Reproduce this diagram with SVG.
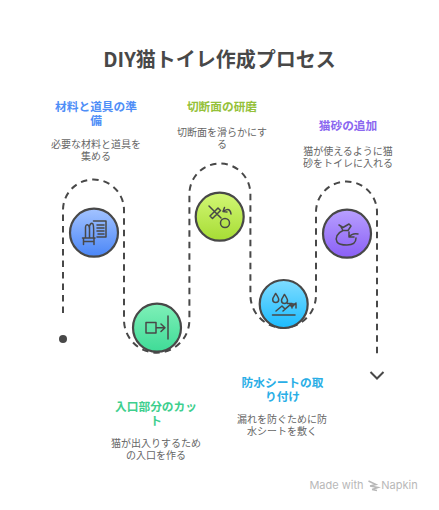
<svg xmlns="http://www.w3.org/2000/svg" width="439" height="510" viewBox="0 0 439 510">
<defs>
<linearGradient id="gb" x1="0" y1="0" x2="0" y2="1"><stop offset="0" stop-color="#a3c3ff"/><stop offset="1" stop-color="#4a86f7"/></linearGradient>
<linearGradient id="gg" x1="0" y1="0" x2="0" y2="1"><stop offset="0" stop-color="#7ff0b8"/><stop offset="1" stop-color="#3fdb97"/></linearGradient>
<linearGradient id="gl" x1="0" y1="0" x2="0" y2="1"><stop offset="0" stop-color="#d2f775"/><stop offset="1" stop-color="#a6dc34"/></linearGradient>
<linearGradient id="gc" x1="0" y1="0" x2="0" y2="1"><stop offset="0" stop-color="#7fdcff"/><stop offset="1" stop-color="#1cbcff"/></linearGradient>
<linearGradient id="gp" x1="0" y1="0" x2="0" y2="1"><stop offset="0" stop-color="#b8a0ff"/><stop offset="1" stop-color="#8a5ff5"/></linearGradient>
</defs>
<style>
text{font-family:"Noto Sans CJK JP","Noto Sans",sans-serif;text-anchor:middle}
.t{font-size:20px;font-weight:700;fill:#484848}
.h{font-size:11.700px;font-weight:700}
.d{font-size:10px;fill:#666666}
.c{stroke:#484848;stroke-width:2.2;}
.i{fill:none;stroke:#484848;stroke-width:1.5;stroke-linecap:round;stroke-linejoin:round}
.p{fill:none;stroke:#484848;stroke-width:2;stroke-dasharray:6.500 5}
.w{font-family:Inter,"Noto Sans",sans-serif;font-size:11px;fill:#b8b8b8}
</style>
<text class="t" x="219.500" y="66.500">DIY猫トイレ作成プロセス</text>
<g id="connectors">
<path class="p" d="M63 313V210A30.500 30.500 0 0 1 124 210V320A32.700 32.700 0 0 0 189.400 320V194A30.500 30.500 0 0 1 250.400 194V295A32.800 32.800 0 0 0 316 295V212A30.500 30.500 0 0 1 377 212V357"/>
<circle cx="63" cy="339" r="4" fill="#484848"/>
<path d="M370.500 372L377 378.500L383.500 372" fill="none" stroke="#484848" stroke-width="2"/>
</g>
<g id="node1">
<text class="h" fill="#4f8ef7" x="96" y="110.500">材料と道具の準<tspan x="96" dy="14">備</tspan></text>
<text class="d" x="96" y="148">必要な材料と道具を<tspan x="96" dy="12">集める</tspan></text>
<circle class="c" cx="94" cy="232.700" r="24" fill="url(#gb)"/>
<path class="i" d="M82.500 238H95M83.500 238V244.500M94 238V244.500M83.500 241.500H94M85.500 238V227Q86 224 88 225Q89.500 226 89.500 229V238M89.500 238V226Q91 222 93 224Q94 226 93.500 238M93.500 221H106V237H97M97 225H104M97 228H104M97 231H104M98 234H104"/>
</g>
<g id="node2">
<text class="h" fill="#3ecf8e" x="156" y="411">入口部分のカッ<tspan x="156" dy="14">ト</tspan></text>
<text class="d" x="156" y="447">猫が出入りするため<tspan x="156" dy="12">の入口を作る</tspan></text>
<circle class="c" cx="157" cy="327.700" r="24" fill="url(#gg)"/>
<path class="i" d="M146 322.500H156V333H146ZM156 327.700H164.500M161 324L165 327.700L161 331.500M168 316V339"/>
</g>
<g id="node3">
<text class="h" fill="#95c13a" x="222" y="111">切断面の研磨</text>
<text class="d" x="222" y="136">切断面を滑らかにす<tspan x="222" dy="12">る</tspan></text>
<circle class="c" cx="219.700" cy="216.700" r="24" fill="url(#gl)"/>
<path class="i" d="M209 206L221 218M210 216L218 208L220.500 210.500L212.500 218.500ZM224 211Q230 207 231 214M224.500 207.500L223 211.500L227 212"/>
<circle class="i" cx="225" cy="223" r="4.500"/>
</g>
<g id="node4">
<text class="h" fill="#2aaee6" x="282.500" y="386.500">防水シートの取<tspan x="282.500" dy="14">り付け</tspan></text>
<text class="d" x="282" y="423">漏れを防ぐために防<tspan x="282" dy="12">水シートを敷く</tspan></text>
<circle class="c" cx="283.700" cy="304" r="24" fill="url(#gc)"/>
<path class="i" d="M272.500 315H295M276 311L282 306L285 309L291 304M287.500 303.500H292V308M283 311L290 305L292 307L296 303M292 304H296V308"/>
<path class="i" d="M275.700 293.500C273.500 297 272.700 298 272.700 299.500A3 3 0 0 0 278.700 299.500C278.700 298 278 297 275.700 293.500ZM284.500 294.500C282.300 298 281.500 299 281.500 300.500A3 3 0 0 0 287.500 300.500C287.500 299 286.800 298 284.500 294.500Z"/>
</g>
<g id="node5">
<text class="h" fill="#8b68f0" x="348" y="129.500">猫砂の追加</text>
<text class="d" x="348" y="154.500">猫が使えるように猫<tspan x="348" dy="12">砂をトイレに入れる</tspan></text>
<circle class="c" cx="347" cy="233.700" r="24" fill="url(#gp)"/>
<path class="i" d="M339 225L343 227.500L349 224L351 226L348 230.500H343L341 227M343 230.500C337 233 335 238 337 242C339 245 343 245 347 245C352 245 356 243 356 238M358 234Q352 233 349 237M349 232V237H354"/>
</g>
<g id="watermark">
<text class="w" x="336.500" y="489">Made with</text>
<path d="M368.500 481L376 484.500L370 486M370 486L378 487.500L372 489.500M372 489.500L377 490.500" fill="none" stroke="#b8b8b8" stroke-width="1.500"/>
<text class="w" x="399.500" y="489">Napkin</text>
</g>
</svg>
